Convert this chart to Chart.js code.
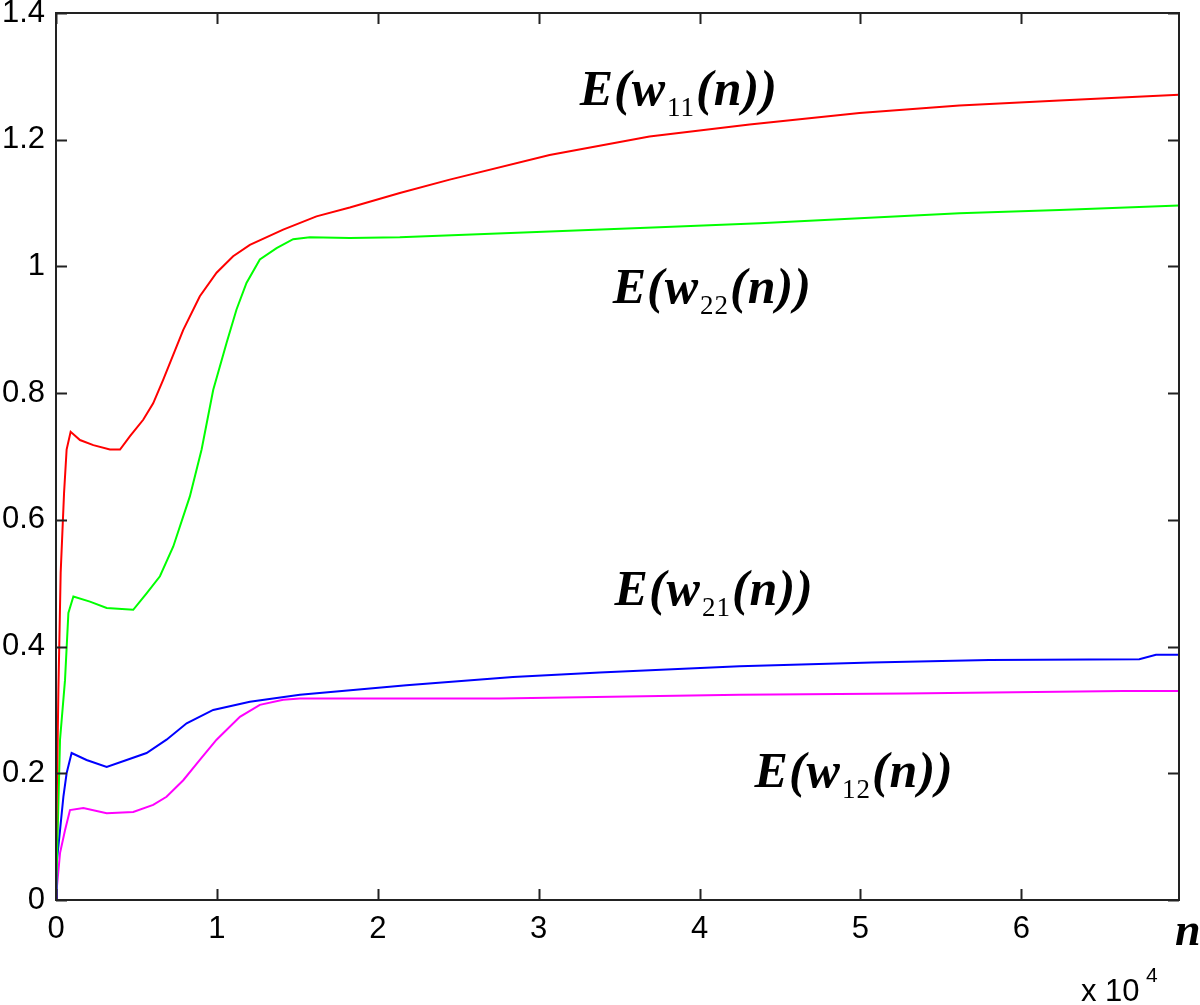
<!DOCTYPE html>
<html lang="en">
<head>
    <meta charset="UTF-8">
    <title>E(w(n)) curves</title>
    <script src="https://cdn.jsdelivr.net/npm/chart.js"></script>
    <style>
        body { margin: 0; background: #fff; }
        .wrap { width: 1200px; height: 1005px; position: relative; }
    </style>
</head>
<body>
    <div class="wrap">
        <canvas id="wChart"></canvas>
    </div>

    <script>
        // values (n, expectation)
        const nW11 = [0, 150, 290, 500, 660, 910, 1490, 2320, 3350, 3980, 4600, 5420, 6040, 6660, 7910, 8940, 9980, 11010, 12050, 14120, 16190, 18260, 21370, 24470, 30680, 36890, 43110, 49940, 56150, 62360, 69800];
        const eW11 = [0.08, 0.332, 0.516, 0.642, 0.711, 0.739, 0.726, 0.718, 0.711, 0.711, 0.732, 0.758, 0.784, 0.821, 0.900, 0.953, 0.990, 1.016, 1.034, 1.058, 1.079, 1.093, 1.116, 1.137, 1.176, 1.205, 1.224, 1.242, 1.254, 1.262, 1.271];

        const nW22 = [0, 250, 560, 770, 1080, 2110, 3150, 4800, 5630, 6460, 7290, 8320, 9050, 9770, 10600, 11220, 11840, 12670, 13710, 14740, 15780, 18260, 21370, 30680, 37500, 43730, 49940, 56150, 62360, 69800];
        const eW22 = [0.005, 0.253, 0.347, 0.453, 0.479, 0.471, 0.461, 0.458, 0.484, 0.511, 0.558, 0.637, 0.711, 0.805, 0.879, 0.932, 0.974, 1.011, 1.029, 1.043, 1.046, 1.045, 1.046, 1.055, 1.062, 1.068, 1.076, 1.084, 1.089, 1.096];

        const nW21 = [0, 40, 250, 460, 660, 970, 1900, 3150, 4390, 5630, 6870, 8120, 9770, 12050, 15160, 21780, 28400, 33790, 42480, 50700, 58000, 67330, 68370, 69800];
        const eW21 = [0, 0.058, 0.110, 0.163, 0.200, 0.232, 0.221, 0.210, 0.221, 0.232, 0.253, 0.279, 0.300, 0.313, 0.324, 0.339, 0.352, 0.359, 0.369, 0.375, 0.379, 0.380, 0.387, 0.387];

        const nW12 = [0, 40, 250, 560, 870, 1700, 3150, 4800, 6040, 6870, 7910, 8940, 9980, 11430, 12670, 14120, 15160, 27580, 42480, 52800, 66300, 69800];
        const eW12 = [0, 0.016, 0.074, 0.110, 0.142, 0.145, 0.137, 0.139, 0.150, 0.163, 0.189, 0.221, 0.253, 0.289, 0.308, 0.316, 0.318, 0.318, 0.324, 0.326, 0.330, 0.330];

        const xTicks = [0, 10000, 20000, 30000, 40000, 50000, 60000];
        const yTicks = [0, 0.2, 0.4, 0.6, 0.8, 1, 1.2, 1.4];

        // curve labels: [n, value, subscript]
        const curveLabels = [
            [32550, 1.255, "11"],
            [34600, 0.943, "22"],
            [34720, 0.466, "21"],
            [43420, 0.178, "12"]
        ];

        function pts(xs, ys) {
            return xs.map((x, i) => ({ x: x, y: ys[i] }));
        }

        Chart.defaults.font.family = "'Liberation Sans', Arial, sans-serif";
        Chart.defaults.color = "#000";

        // MATLAB-like box with inward ticks on all four sides
        const boxPlugin = {
            id: "box",
            afterDraw(chart) {
                const ctx = chart.ctx;
                const a = chart.chartArea;
                const xs = chart.scales.x, ys = chart.scales.y;
                const len = 11;
                ctx.save();
                ctx.strokeStyle = "#222";
                ctx.lineWidth = 2;
                ctx.strokeRect(a.left, a.top, a.right - a.left, a.bottom - a.top);
                ctx.beginPath();
                xTicks.forEach(v => {
                    const px = Math.round(xs.getPixelForValue(v)) + 0.5;
                    ctx.moveTo(px, a.bottom); ctx.lineTo(px, a.bottom - len);
                    ctx.moveTo(px, a.top); ctx.lineTo(px, a.top + len);
                });
                yTicks.forEach(v => {
                    const py = Math.round(ys.getPixelForValue(v)) + 0.5;
                    ctx.moveTo(a.left, py); ctx.lineTo(a.left + len, py);
                    ctx.moveTo(a.right, py); ctx.lineTo(a.right - len, py);
                });
                ctx.stroke();
                ctx.restore();
            }
        };

        // E(w_ij(n)) labels plus axis annotations
        const textPlugin = {
            id: "texts",
            afterDraw(chart) {
                const ctx = chart.ctx;
                const xs = chart.scales.x, ys = chart.scales.y;
                const big = "bold italic 50px 'Liberation Serif'";
                const small = "27px 'Liberation Serif'";
                ctx.save();
                ctx.fillStyle = "#000";
                ctx.textBaseline = "alphabetic";
                ctx.textAlign = "left";
                curveLabels.forEach(l => {
                    let x = xs.getPixelForValue(l[0]);
                    const y = ys.getPixelForValue(l[1]);
                    ctx.letterSpacing = "1px";
                    ctx.font = big;
                    ctx.fillText("E(w", x, y);
                    x += ctx.measureText("E(w").width + 1;
                    ctx.font = small;
                    ctx.fillText(l[2], x, y + 11);
                    x += ctx.measureText(l[2]).width + 1;
                    ctx.font = big;
                    ctx.fillText("(n))", x, y);
                });
                ctx.letterSpacing = "0px";

                // axis name and exponent
                ctx.font = "bold italic 46px 'Liberation Serif'";
                ctx.fillText("n", 1175, 945);
                ctx.font = "31px 'Liberation Sans'";
                ctx.fillText("x 10", 1081, 1001);
                ctx.font = "21px 'Liberation Sans'";
                ctx.fillText("4", 1146, 982);
                ctx.restore();
            }
        };

        const ctx = document.getElementById("wChart").getContext("2d");
        const wChart = new Chart(ctx, {
            type: "line",
            data: {
                datasets: [
                    { label: "E(w11(n))", data: pts(nW11, eW11), borderColor: "#ff0000" },
                    { label: "E(w22(n))", data: pts(nW22, eW22), borderColor: "#00ff00" },
                    { label: "E(w21(n))", data: pts(nW21, eW21), borderColor: "#0000ff" },
                    { label: "E(w12(n))", data: pts(nW12, eW12), borderColor: "#ff00ff" }
                ]
            },
            options: {
                responsive: true,
                maintainAspectRatio: false,
                animation: false,
                layout: { padding: { top: 13, right: 21, left: 0, bottom: 0 } },
                elements: {
                    point: { radius: 0 },
                    line: { borderWidth: 2, tension: 0, fill: false }
                },
                plugins: {
                    legend: { display: false },
                    tooltip: { enabled: false }
                },
                scales: {
                    x: {
                        type: "linear",
                        min: 0,
                        max: 69800,
                        grid: { display: false, drawTicks: false },
                        border: { display: false },
                        ticks: {
                            stepSize: 10000,
                            padding: 11,
                            maxRotation: 0,
                            font: { size: 31 },
                            callback: v => String(v / 10000)
                        },
                        afterBuildTicks: s => { s.ticks = xTicks.map(v => ({ value: v })); },
                        afterFit: s => { s.height = 105; s.paddingLeft = 0; s.paddingRight = 0; }
                    },
                    y: {
                        min: 0,
                        max: 1.4,
                        grid: { display: false, drawTicks: false },
                        border: { display: false },
                        ticks: {
                            stepSize: 0.2,
                            padding: 11,
                            font: { size: 31 },
                            callback: v => String(Number(v.toFixed(1)))
                        },
                        afterBuildTicks: s => { s.ticks = yTicks.map(v => ({ value: v })); },
                        afterFit: s => { s.width = 56; s.paddingTop = 0; s.paddingBottom = 0; }
                    }
                }
            },
            plugins: [boxPlugin, textPlugin]
        });
    </script>
</body>
</html>
